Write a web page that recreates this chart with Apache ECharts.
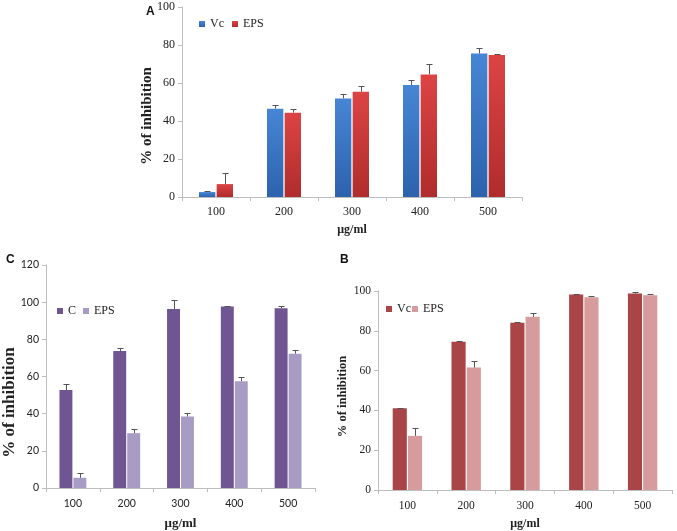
<!DOCTYPE html>
<html><head><meta charset="utf-8">
<script src="https://cdn.jsdelivr.net/npm/echarts@6/dist/echarts.min.js"></script>
<style>html,body{margin:0;padding:0;background:#fff}#c{width:677px;height:531px}</style>
</head><body><div id="c"></div>
<script>
// ---- data ----
const categories = ['100', '200', '300', '400', '500'];
// Panel A
const aVc = [2.6, 46.5, 51.9, 58.9, 75.5];
const aVcErr = [0.5, 2.1, 2.3, 2.5, 3.0];
const aEps = [6.8, 44.4, 55.4, 64.5, 74.8];
const aEpsErr = [5.7, 2.1, 3.2, 5.4, 0.7];
// Panel C
const cC = [52.7, 73.7, 96.3, 97.7, 96.7];
const cCErr = [3.5, 1.8, 4.6, 0.5, 1.3];
const cEps = [5.5, 29.5, 38.5, 57.5, 72.3];
const cEpsErr = [2.5, 2.0, 2.0, 2.1, 1.9];
// Panel B
const bVc = [41.1, 74.5, 84.0, 98.2, 98.7];
const bVcErr = [0.2, 0.2, 0.5, 0.5, 0.6];
const bEps = [27.2, 61.5, 87.0, 96.9, 97.9];
const bEpsErr = [4.2, 3.1, 1.9, 0.8, 0.5];
// axis ranges
const yMaxA = 100, yMaxC = 120, yMaxB = 100, yStep = 20;

const CAT_GAP = 0.5, BAR_GAP = 0.08;
const serif = '"Liberation Serif", "Times New Roman", serif';
const sans = 'Lato, "Liberation Sans", sans-serif';

function grad(top, bottom) {
  return new echarts.graphic.LinearGradient(0, 0, 0, 1, [
    {offset: 0, color: top}, {offset: 1, color: bottom}]);
}

function barSeries(name, g, vals, color) {
  return {
    name: name, type: 'bar', xAxisIndex: g, yAxisIndex: g,
    data: vals, barCategoryGap: (CAT_GAP * 100) + '%', barGap: (BAR_GAP * 100) + '%',
    itemStyle: {color: color}, z: 2
  };
}

function errSeries(g, vals, errs, slot) {
  return {
    type: 'custom', xAxisIndex: g, yAxisIndex: g, silent: true, z: 3,
    encode: {x: 0, y: [1, 2]},
    data: vals.map((v, i) => [i, v, v + errs[i]]),
    renderItem: function (params, api) {
      const w = api.size([1, 0])[0];
      const bw = w * (1 - CAT_GAP) / (2 + BAR_GAP);
      const off = (slot === 0 ? -1 : 1) * bw * (1 + BAR_GAP) / 2;
      const p0 = api.coord([api.value(0), api.value(1)]);
      const p1 = api.coord([api.value(0), api.value(2)]);
      const x = Math.round(p0[0] + off) + 0.5;
      const y1 = Math.round(p1[1]) + 0.5;
      const cap = 3;
      const st = {stroke: '#555', lineWidth: 1};
      return {type: 'group', children: [
        {type: 'line', shape: {x1: x, y1: p0[1], x2: x, y2: y1}, style: st},
        {type: 'line', shape: {x1: x - cap, y1: y1, x2: x + cap, y2: y1}, style: st}
      ]};
    }
  };
}

function xAxis(g, font, size, nameSize, nameGap, labelMargin) {
  return {
    type: 'category', gridIndex: g, data: categories,
    name: 'μg/ml', nameLocation: 'middle', nameGap: nameGap, nameMoveOverlap: false,
    nameTextStyle: {fontFamily: serif, fontWeight: 'bold', fontSize: nameSize, color: '#222'},
    axisLine: {lineStyle: {color: '#bdbdbd'}},
    axisTick: {show: true, length: 4, lineStyle: {color: '#bdbdbd'}},
    axisLabel: {fontFamily: font, fontSize: size, color: '#222', margin: labelMargin}
  };
}
function yAxis(g, max, font, size, nameSize, nameGap, shift) {
  return {
    type: 'value', gridIndex: g, min: 0, max: max, interval: yStep,
    name: '% of inhibition', nameLocation: 'middle', nameGap: nameGap, nameMoveOverlap: false,
    nameTextStyle: {fontFamily: serif, fontWeight: 'bold', fontSize: nameSize, color: '#222',
      padding: [0, shift * 2, 0, 0]},
    splitLine: {show: false},
    axisLine: {show: true, lineStyle: {color: '#bdbdbd'}},
    axisTick: {show: true, length: 4, lineStyle: {color: '#bdbdbd'}},
    axisLabel: {fontFamily: font, fontSize: size, color: '#222', margin: 7}
  };
}
function legend(names, left, top, gap, size) {
  return {
    data: names, left: left, top: top, itemGap: gap, itemWidth: 6, itemHeight: 6,
    icon: 'rect', padding: 0,
    formatter: n => n.split('|')[1],
    textStyle: {fontFamily: serif, fontSize: size, color: '#222'}
  };
}

const colA1 = grad('#4686d4', '#2d62ad');
const colA2 = grad('#dc4444', '#b02c2c');
const colC1 = '#6f5592', colC2 = '#a99cc4';
const colB1 = '#a94547', colB2 = '#d69c9d';

const option = {
  animation: false,
  backgroundColor: '#fff',
  title: [
    {text: 'A', left: 141, top: 1, textStyle: {fontFamily: '"Liberation Sans", sans-serif', fontWeight: 'bold', fontSize: 12, color: '#111'}},
    {text: 'C', left: 1, top: 249, textStyle: {fontFamily: '"Liberation Sans", sans-serif', fontWeight: 'bold', fontSize: 12, color: '#111'}},
    {text: 'B', left: 335, top: 249, textStyle: {fontFamily: '"Liberation Sans", sans-serif', fontWeight: 'bold', fontSize: 12, color: '#111'}}
  ],
  grid: [
    {left: 182, right: 155, top: 7, bottom: 334},
    {left: 42, right: 362, top: 265, bottom: 39},
    {left: 378, right: 5, top: 291, bottom: 37}
  ],
  legend: [
    legend(['A|Vc', 'A|EPS'], 199, 18, 8, 12),
    legend(['C|C', 'C|EPS'], 57, 305, 7, 12),
    legend(['B|Vc', 'B|EPS'], 386, 303, 1, 12)
  ],
  xAxis: [
    xAxis(0, serif, 12, 12, 27, 9),
    xAxis(1, sans, 10.5, 13, 29, 10),
    xAxis(2, serif, 11.5, 12, 28, 10)
  ],
  yAxis: [
    yAxis(0, yMaxA, serif, 12, 15, 27, 14),
    yAxis(1, yMaxC, sans, 10.5, 17, 28, 26),
    yAxis(2, yMaxB, serif, 11.5, 12.5, 29, 6)
  ],
  series: [
    barSeries('A|Vc', 0, aVc, colA1),
    barSeries('A|EPS', 0, aEps, colA2),
    errSeries(0, aVc, aVcErr, 0),
    errSeries(0, aEps, aEpsErr, 1),
    barSeries('C|C', 1, cC, colC1),
    barSeries('C|EPS', 1, cEps, colC2),
    errSeries(1, cC, cCErr, 0),
    errSeries(1, cEps, cEpsErr, 1),
    barSeries('B|Vc', 2, bVc, colB1),
    barSeries('B|EPS', 2, bEps, colB2),
    errSeries(2, bVc, bVcErr, 0),
    errSeries(2, bEps, bEpsErr, 1)
  ]
};
const chart = echarts.init(document.getElementById('c'), null, {renderer: 'canvas'});
chart.setOption(option);
</script>
</body></html>
